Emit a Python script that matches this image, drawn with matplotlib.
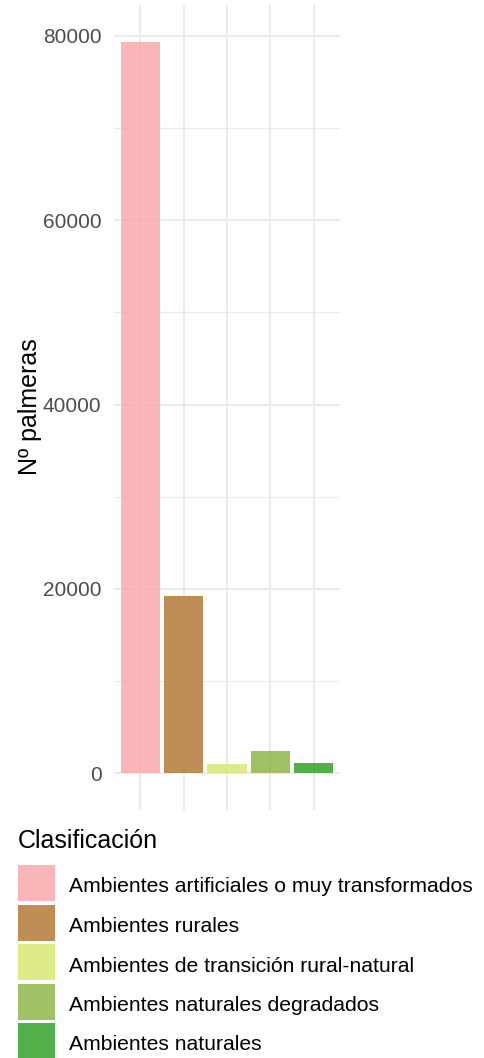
import matplotlib.pyplot as plt
from matplotlib.patches import Rectangle
from matplotlib.ticker import MultipleLocator

plt.rcParams['font.family'] = ['Liberation Sans', 'DejaVu Sans']

# data
categories = [
    "Ambientes artificiales o muy transformados",
    "Ambientes rurales",
    "Ambientes de transición rural-natural",
    "Ambientes naturales degradados",
    "Ambientes naturales",
]
counts = [79350, 19200, 1050, 2450, 1100]
colors = ["#FAA4A9", "#AD732C", "#D7E76B", "#8AB23F", "#279C1D"]
alpha = 0.8

W, H = 484, 1058
fig = plt.figure(figsize=(W / 100, H / 100), dpi=100)

# panel in pixels: x 114..340, y 5..810
ax = fig.add_axes([114 / W, (H - 810) / H, (340 - 114) / W, (810 - 5) / H])

x = list(range(1, len(categories) + 1))
ax.bar(x, counts, width=0.9, color=colors, alpha=alpha, zorder=2)

ymax = max(counts)
ax.set_ylim(-0.05 * ymax, 1.05 * ymax)
ax.set_xlim(0.4, len(categories) + 0.6)

ax.yaxis.set_major_locator(MultipleLocator(20000))
ax.yaxis.set_minor_locator(MultipleLocator(10000))
ax.set_xticks(x)
ax.set_xticklabels([])
ax.tick_params(axis="both", which="both", length=0)
ax.tick_params(axis="y", labelsize=15, labelcolor="#4D4D4D", pad=9)

ax.grid(which="major", color="#EBEBEB", linewidth=1.4, zorder=0)
ax.grid(which="minor", axis="y", color="#EBEBEB", linewidth=0.8, zorder=0)
ax.set_axisbelow(True)
for s in ax.spines.values():
    s.set_visible(False)

# y title
fig.text(30 / W, 1 - 407 / H, "Nº palmeras", fontsize=18, rotation=90,
         va="center", ha="center")

# legend drawn by hand under the panel
fig.text(18 / W, 1 - 841 / H, "Clasificación", fontsize=18, va="center", ha="left")
key_top = 865
step = 39.5
for i, (lab, col) in enumerate(zip(categories, colors)):
    top = key_top + i * step
    fig.add_artist(Rectangle((18 / W, 1 - (top + 36) / H), 37 / W, 36 / H,
                             transform=fig.transFigure, facecolor=col,
                             alpha=alpha, edgecolor="none"))
    fig.text(69 / W, 1 - (top + 22) / H, lab, fontsize=15.2, va="center", ha="left")

fig.savefig("out.png", dpi=100)
